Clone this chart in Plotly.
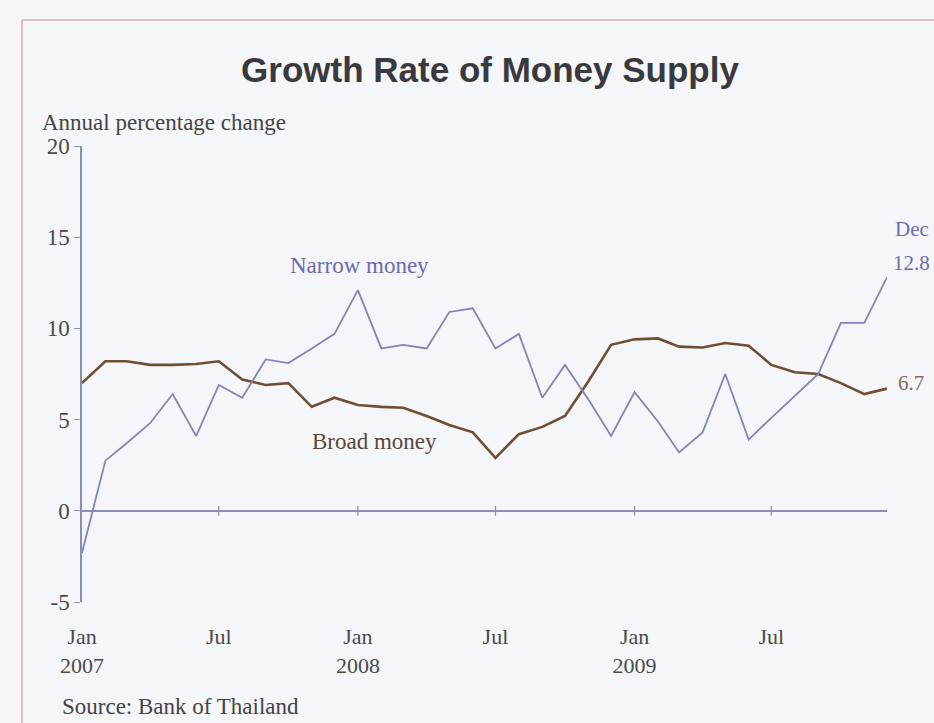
import pandas as pd
import plotly.graph_objects as go

# ---- data ----
months = pd.date_range("2007-01-01", periods=36, freq="MS")
narrow_money = [-2.3, 2.75, 3.7, 4.8, 6.4, 4.1, 6.9, 6.2, 8.3, 8.1, 8.9, 9.7,
                12.1, 8.9, 9.1, 8.9, 10.9, 11.1, 8.9, 9.7, 6.2, 8.0, 6.1, 4.1,
                6.5, 4.9, 3.2, 4.3, 7.5, 3.9, 5.1, 6.3, 7.5, 10.3, 10.3, 12.8]
broad_money = [7.0, 8.2, 8.2, 8.0, 8.0, 8.05, 8.2, 7.2, 6.9, 7.0, 5.7, 6.2,
               5.8, 5.7, 5.65, 5.2, 4.7, 4.3, 2.9, 4.2, 4.6, 5.2, 7.1, 9.1,
               9.4, 9.45, 9.0, 8.95, 9.2, 9.05, 8.0, 7.6, 7.5, 7.0, 6.4, 6.7]
tick_dates = ["2007-01-01", "2007-07-01", "2008-01-01", "2008-07-01", "2009-01-01", "2009-07-01"]
tick_text = ["Jan<br>2007", "Jul", "Jan<br>2008", "Jul", "Jan<br>2009", "Jul"]
y_ticks = [-5, 0, 5, 10, 15, 20]
y_tick_text = ["-5", "0", "5", "10", "15", "20"]

SERIF = "Liberation Serif, Times New Roman, serif"
SANS = "Liberation Sans, Arial, sans-serif"
BLUE = "#8285bd"
BROWN = "#6e4f33"
AXIS = "#8a8db5"
BG = "#f5f6fa"
FS = 22

fig = go.Figure()
fig.add_trace(go.Scatter(x=months, y=broad_money, mode="lines",
                         line=dict(color=BROWN, width=2.6), name="Broad money"))
fig.add_trace(go.Scatter(x=months, y=narrow_money, mode="lines",
                         line=dict(color=BLUE, width=1.8), name="Narrow money"))
# small tick marks on the zero line
fig.add_trace(go.Scatter(x=tick_dates[1:], y=[0] * (len(tick_dates) - 1), mode="markers",
                         marker=dict(symbol="line-ns-open", size=7, color=AXIS,
                                     line=dict(color=AXIS, width=1.2)),
                         hoverinfo="skip"))

W, H = 934, 723
L, R, T, B = 82, 47, 146, 121
pw, ph = W - L - R, H - T - B


def px(xp):
    return (xp - L) / pw


def py(yp):
    return (H - B - yp) / ph


fig.update_layout(
    width=W, height=H,
    margin=dict(l=L, r=R, t=T, b=B),
    paper_bgcolor=BG, plot_bgcolor=BG,
    showlegend=False,
    title=dict(text="<b>Growth Rate of Money Supply</b>", x=490 / W, xref="container",
               xanchor="center", y=1 - 70 / H, yanchor="middle", yref="container",
               font=dict(family=SANS, size=35, color="#3a3a3e")),
    xaxis=dict(range=["2007-01-01", "2009-12-01"], tickvals=tick_dates, ticktext=tick_text,
               showgrid=False, showline=False, zeroline=False, ticks="",
               ticklabelstandoff=19,
               tickfont=dict(family=SERIF, size=FS, color="#4a4a4a")),
    yaxis=dict(range=[-5, 20], tickvals=y_ticks, ticktext=y_tick_text, showgrid=False,
               showline=True, linecolor=AXIS, linewidth=1.5,
               ticks="outside", ticklen=6, tickcolor=AXIS, tickwidth=1.2,
               zeroline=True, zerolinecolor=AXIS, zerolinewidth=1.5,
               tickfont=dict(family=SERIF, size=23, color="#4a4a4a")),
)

ann = [
    dict(text="Annual percentage change", x=px(40), y=py(122), xanchor="left", yanchor="middle",
         font=dict(family=SERIF, size=23, color="#444444")),
    dict(text="Source: Bank of Thailand", x=px(60), y=py(706), xanchor="left", yanchor="middle",
         font=dict(family=SERIF, size=23, color="#444444")),
    dict(text="Narrow money", x=px(359), y=py(265), xanchor="center", yanchor="middle",
         font=dict(family=SERIF, size=23, color="#6a6cae")),
    dict(text="Broad money", x=px(374), y=py(441), xanchor="center", yanchor="middle",
         font=dict(family=SERIF, size=23, color="#5a4838")),
    dict(text="Dec", x=px(893), y=py(229), xanchor="left", yanchor="middle",
         font=dict(family=SERIF, size=21, color="#6a6cae")),
    dict(text="12.8", x=px(891), y=py(263), xanchor="left", yanchor="middle",
         font=dict(family=SERIF, size=21, color="#6a6cae")),
    dict(text="6.7", x=px(896), y=py(383), xanchor="left", yanchor="middle",
         font=dict(family=SERIF, size=21, color="#8a6a50")),
]
for a in ann:
    a.update(xref="paper", yref="paper", showarrow=False)
fig.update_layout(annotations=ann)

# frame lines (pinkish border)
fig.add_shape(type="line", xref="paper", yref="paper", x0=px(22), x1=px(22), y0=py(20), y1=py(730),
              line=dict(color="#e2b9c2", width=2))
fig.add_shape(type="line", xref="paper", yref="paper", x0=px(22), x1=px(940), y0=py(20), y1=py(20),
              line=dict(color="#d9c4ca", width=2))

fig.write_html("out.html", config={"displayModeBar": False},
               post_script="document.body.style.margin='0';document.body.style.overflow='hidden';"
                           "document.body.style.background='" + BG + "';")
